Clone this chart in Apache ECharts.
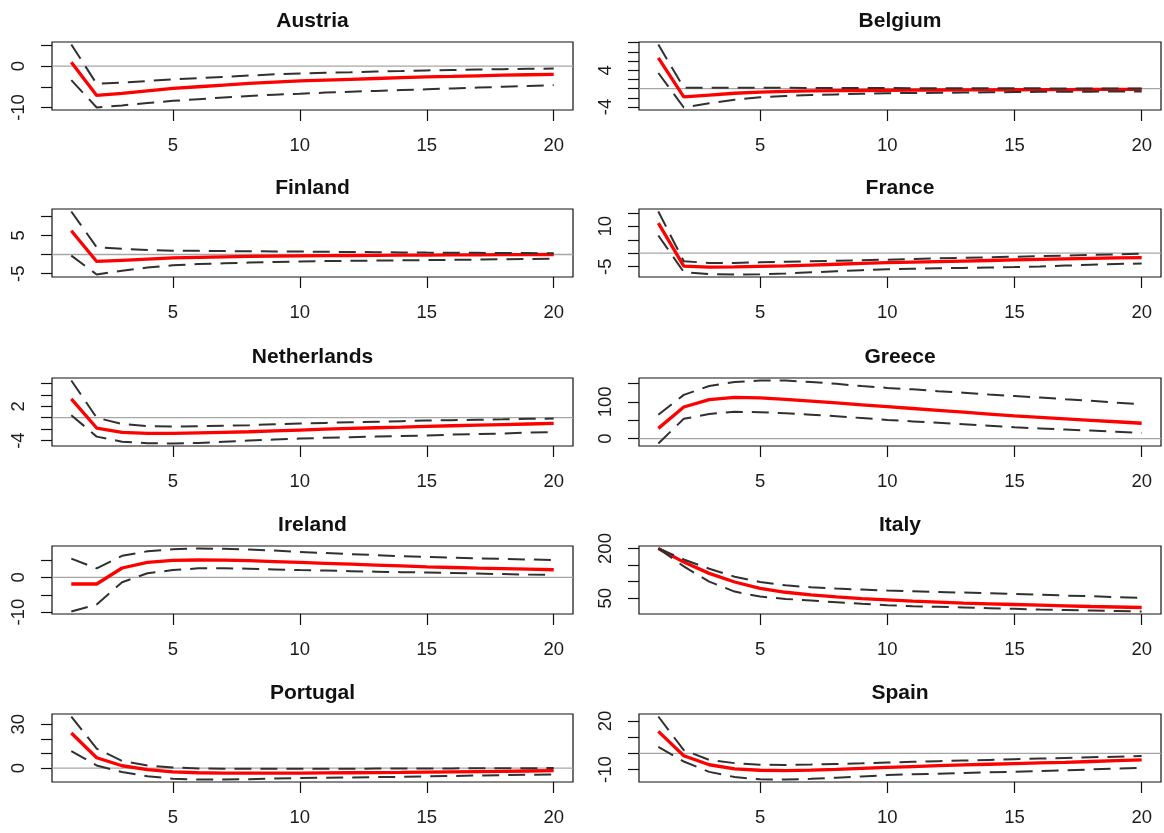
<!DOCTYPE html>
<html>
<head>
<meta charset="utf-8">
<script src="https://cdn.jsdelivr.net/npm/echarts@6/dist/echarts.min.js"></script>
<style>
  html, body { margin: 0; padding: 0; background: #ffffff; }
  #chart { width: 1164px; height: 833px; }
</style>
</head>
<body>
<div id="chart"></div>
<script>
// Impulse responses by horizon, with lower / upper bands, one panel per country.
const horizon = [1, 2, 3, 4, 5, 6, 7, 8, 9, 10, 11, 12, 13, 14, 15, 16, 17, 18, 19, 20];
const xTicks = [5, 10, 15, 20];

const austriaIrf   = [0.9, -7.1, -6.6, -6.0, -5.4, -5.0, -4.6, -4.2, -3.9, -3.6, -3.4, -3.2, -3.0, -2.8, -2.6, -2.5, -2.35, -2.2, -2.1, -2.0];
const austriaUpper = [5.2, -4.3, -4.0, -3.6, -3.2, -2.9, -2.6, -2.3, -2.0, -1.8, -1.6, -1.5, -1.3, -1.2, -1.05, -0.95, -0.85, -0.75, -0.65, -0.6];
const austriaLower = [-3.4, -10.0, -9.5, -8.9, -8.4, -8.0, -7.6, -7.2, -6.9, -6.7, -6.4, -6.2, -6.0, -5.8, -5.6, -5.4, -5.2, -5.0, -4.8, -4.6];
const austriaTicks = [-10, -5, 0, 5];
const austriaLabels = [-10, 0];

const belgiumIrf   = [6.7, -1.8, -1.4, -1.0, -0.75, -0.6, -0.5, -0.45, -0.4, -0.35, -0.32, -0.3, -0.28, -0.26, -0.24, -0.22, -0.2, -0.18, -0.16, -0.15];
const belgiumUpper = [9.6, 0.2, 0.2, 0.2, 0.2, 0.18, 0.16, 0.15, 0.14, 0.12, 0.1, 0.1, 0.09, 0.08, 0.07, 0.06, 0.05, 0.05, 0.04, 0.03];
const belgiumLower = [3.4, -4.1, -3.2, -2.4, -1.9, -1.6, -1.4, -1.25, -1.1, -1.0, -0.95, -0.9, -0.85, -0.8, -0.75, -0.7, -0.68, -0.65, -0.62, -0.6];
const belgiumTicks = [-4, -2, 0, 2, 4, 6, 8, 10];
const belgiumLabels = [-4, 4];

const finlandIrf   = [6.2, -1.8, -1.5, -1.2, -0.9, -0.75, -0.6, -0.5, -0.42, -0.35, -0.3, -0.25, -0.2, -0.17, -0.14, -0.11, -0.08, -0.05, -0.03, 0.0];
const finlandUpper = [11.2, 1.9, 1.5, 1.2, 1.0, 0.95, 0.9, 0.85, 0.8, 0.78, 0.72, 0.66, 0.6, 0.55, 0.5, 0.47, 0.44, 0.4, 0.37, 0.35];
const finlandLower = [-0.3, -5.2, -4.2, -3.4, -2.8, -2.5, -2.3, -2.1, -1.95, -1.8, -1.72, -1.65, -1.58, -1.52, -1.46, -1.4, -1.32, -1.25, -1.18, -1.1];
const finlandTicks = [-5, 0, 5, 10];
const finlandLabels = [-5, 5];

const franceIrf   = [11.2, -4.8, -5.2, -5.1, -4.9, -4.7, -4.4, -4.1, -3.8, -3.5, -3.3, -3.1, -2.9, -2.7, -2.5, -2.3, -2.1, -1.9, -1.75, -1.6];
const franceUpper = [15.5, -3.0, -3.6, -3.6, -3.4, -3.2, -3.0, -2.8, -2.6, -2.4, -2.15, -1.9, -1.7, -1.5, -1.3, -1.1, -0.9, -0.65, -0.4, -0.2];
const franceLower = [6.6, -7.0, -7.8, -7.9, -7.8, -7.5, -7.1, -6.7, -6.3, -6.0, -5.8, -5.6, -5.45, -5.3, -5.15, -4.9, -4.6, -4.3, -4.0, -3.8];
const franceTicks = [-5, 0, 5, 10, 15];
const franceLabels = [-5, 10];

const netherlandsIrf   = [3.3, -1.8, -2.55, -2.75, -2.75, -2.65, -2.55, -2.45, -2.3, -2.15, -2.0, -1.85, -1.75, -1.65, -1.5, -1.4, -1.3, -1.2, -1.1, -1.0];
const netherlandsUpper = [6.5, 0.0, -1.1, -1.45, -1.55, -1.5, -1.4, -1.3, -1.15, -1.0, -0.9, -0.8, -0.7, -0.6, -0.5, -0.42, -0.35, -0.28, -0.2, -0.15];
const netherlandsLower = [0.45, -3.3, -4.2, -4.45, -4.5, -4.4, -4.2, -4.0, -3.8, -3.65, -3.5, -3.4, -3.3, -3.2, -3.1, -2.95, -2.85, -2.75, -2.6, -2.5];
const netherlandsTicks = [-4, -2, 0, 2, 4, 6];
const netherlandsLabels = [-4, 2];

const greeceIrf   = [28, 86, 106, 112, 111, 107, 102, 97, 92, 87, 82, 77, 72, 67, 62, 58, 54, 50, 46, 42];
const greeceUpper = [65, 119, 143, 154, 158, 158, 154, 149, 143, 138, 134, 129, 125, 120, 116, 112, 107, 103, 98, 94];
const greeceLower = [-13, 54, 67, 73, 72, 69, 65, 61, 56, 51, 47, 43, 39, 35, 31, 28, 25, 22, 19, 16];
const greeceTicks = [0, 50, 100, 150];
const greeceLabels = [0, 100];

const irelandIrf   = [-1.9, -1.9, 2.7, 4.3, 4.9, 5.0, 4.95, 4.8, 4.55, 4.3, 4.05, 3.8, 3.55, 3.3, 3.05, 2.85, 2.65, 2.5, 2.35, 2.2];
const irelandUpper = [5.4, 2.6, 6.2, 7.5, 8.1, 8.3, 8.2, 8.0, 7.7, 7.3, 7.0, 6.7, 6.4, 6.1, 5.9, 5.7, 5.5, 5.3, 5.15, 5.0];
const irelandLower = [-9.8, -7.8, -1.4, 1.2, 2.1, 2.6, 2.6, 2.5, 2.3, 2.1, 1.95, 1.8, 1.65, 1.5, 1.4, 1.25, 1.1, 0.95, 0.8, 0.7];
const irelandTicks = [-10, -5, 0, 5];
const irelandLabels = [-10, 0];

const italyIrf   = [200, 159, 125, 99, 80, 68, 60, 54, 49, 45, 41, 38, 35, 33, 31, 29, 27, 25, 23.5, 22];
const italyUpper = [200, 167, 139, 115, 99, 89, 83, 79, 76, 73, 71, 69, 67, 65, 63, 61, 58, 56, 53, 51];
const italyLower = [200, 146, 100, 70, 55, 48, 43, 38, 33, 29, 26, 24, 22, 20, 18, 16, 14.5, 13, 11.5, 10];
const italyTicks = [50, 100, 150, 200];
const italyLabels = [50, 200];

const portugalIrf   = [24, 7.1, 1.6, -1.1, -2.6, -3.2, -3.4, -3.5, -3.5, -3.4, -3.3, -3.2, -3.1, -3.0, -2.8, -2.6, -2.4, -2.2, -2.0, -1.8];
const portugalUpper = [35.3, 13.3, 4.9, 1.8, 0.4, -0.2, -0.4, -0.5, -0.5, -0.4, -0.4, -0.4, -0.35, -0.3, -0.25, -0.2, -0.15, -0.1, -0.05, 0.0];
const portugalLower = [11.6, 1.8, -2.7, -5.6, -7.3, -7.8, -7.8, -7.6, -7.2, -6.8, -6.6, -6.4, -6.2, -6.0, -5.7, -5.4, -5.1, -4.8, -4.6, -4.4];
const portugalTicks = [0, 10, 20, 30];
const portugalLabels = [0, 30];

const spainIrf   = [13.6, -1.4, -7.0, -9.5, -10.4, -10.6, -10.3, -9.8, -9.2, -8.6, -8.1, -7.6, -7.1, -6.7, -6.3, -5.9, -5.5, -5.0, -4.5, -4.0];
const spainUpper = [22.8, 2.0, -4.0, -6.0, -7.0, -7.1, -6.9, -6.5, -6.1, -5.6, -5.2, -4.8, -4.4, -4.0, -3.6, -3.2, -2.8, -2.4, -2.0, -1.6];
const spainLower = [4.0, -5.0, -11.4, -14.6, -16.0, -16.1, -15.7, -15.0, -14.2, -13.4, -12.9, -12.5, -12.1, -11.7, -11.3, -10.9, -10.4, -9.9, -9.4, -9.0];
const spainTicks = [-10, 0, 10, 20];
const spainLabels = [-10, 20];

const panels = [
  { name: 'Austria',     irf: austriaIrf,     upper: austriaUpper,     lower: austriaLower,     ticks: austriaTicks,     labels: austriaLabels },
  { name: 'Belgium',     irf: belgiumIrf,     upper: belgiumUpper,     lower: belgiumLower,     ticks: belgiumTicks,     labels: belgiumLabels },
  { name: 'Finland',     irf: finlandIrf,     upper: finlandUpper,     lower: finlandLower,     ticks: finlandTicks,     labels: finlandLabels },
  { name: 'France',      irf: franceIrf,      upper: franceUpper,      lower: franceLower,      ticks: franceTicks,      labels: franceLabels },
  { name: 'Netherlands', irf: netherlandsIrf, upper: netherlandsUpper, lower: netherlandsLower, ticks: netherlandsTicks, labels: netherlandsLabels },
  { name: 'Greece',      irf: greeceIrf,      upper: greeceUpper,      lower: greeceLower,      ticks: greeceTicks,      labels: greeceLabels },
  { name: 'Ireland',     irf: irelandIrf,     upper: irelandUpper,     lower: irelandLower,     ticks: irelandTicks,     labels: irelandLabels },
  { name: 'Italy',       irf: italyIrf,       upper: italyUpper,       lower: italyLower,       ticks: italyTicks,       labels: italyLabels },
  { name: 'Portugal',    irf: portugalIrf,    upper: portugalUpper,    lower: portugalLower,    ticks: portugalTicks,    labels: portugalLabels },
  { name: 'Spain',       irf: spainIrf,       upper: spainUpper,       lower: spainLower,       ticks: spainTicks,       labels: spainLabels }
];

// Layout of the 5 x 2 grid of plot boxes (pixels).
const colLeft = [52, 639];
const colWidth = [521, 522];
const rowTop = [42, 209, 378, 546, 714];
const boxHeight = 68;
const FONT = "'Liberation Sans', Arial, Helvetica, sans-serif";
const TEXT = '#1c1c1c';

// Axis ranges padded by 4% of the data span on each side.
function padded(values) {
  const lo = Math.min.apply(null, values);
  const hi = Math.max.apply(null, values);
  const pad = (hi - lo) * 0.04;
  return [lo - pad, hi + pad];
}
const xRange = padded(horizon);

const grids = [], xAxes = [], yAxes = [], titles = [], series = [];

panels.forEach((p, i) => {
  const col = i % 2, row = Math.floor(i / 2);
  const left = colLeft[col], top = rowTop[row], width = colWidth[col];
  const yRange = padded(p.irf.concat(p.upper, p.lower));

  grids.push({
    left: left, top: top, width: width, height: boxHeight,
    show: true, borderColor: '#111', borderWidth: 1.2, backgroundColor: 'transparent'
  });

  titles.push({
    text: p.name,
    left: left + width / 2,
    top: top - 31,
    textAlign: 'center',
    padding: 0,
    textStyle: { fontFamily: FONT, fontWeight: 'bold', fontSize: 21, color: '#111' }
  });

  xAxes.push({
    gridIndex: i, type: 'value', min: xRange[0], max: xRange[1], position: 'bottom',
    axisLine: { show: false, onZero: false },
    splitLine: { show: false },
    axisTick: { show: true, inside: false, length: 11, customValues: xTicks, lineStyle: { color: '#111', width: 1.2 } },
    axisLabel: { customValues: xTicks, margin: 26, fontSize: 18.5, fontFamily: FONT, color: TEXT }
  });

  yAxes.push({
    gridIndex: i, type: 'value', min: yRange[0], max: yRange[1], position: 'left',
    axisLine: { show: false, onZero: false },
    splitLine: { show: false },
    axisTick: { show: true, inside: false, length: 11, customValues: p.ticks, lineStyle: { color: '#111', width: 1.2 } },
    axisLabel: { customValues: p.labels, rotate: 90, margin: 24, fontSize: 18.5, fontFamily: FONT, color: TEXT }
  });

  const pts = arr => horizon.map((h, k) => [h, arr[k]]);

  // Zero reference line, only where zero lies inside the axis range.
  if (yRange[0] < 0 && yRange[1] > 0) {
    series.push({
      type: 'line', xAxisIndex: i, yAxisIndex: i, silent: true, symbol: 'none', z: 1,
      data: [[xRange[0], 0], [xRange[1], 0]],
      lineStyle: { color: '#a6a6a6', width: 1.3 }
    });
  }
  series.push({
    type: 'line', xAxisIndex: i, yAxisIndex: i, symbol: 'none', z: 2,
    data: pts(p.irf),
    lineStyle: { color: '#ff0000', width: 3.3 }
  });
  [p.upper, p.lower].forEach(band => {
    series.push({
      type: 'line', xAxisIndex: i, yAxisIndex: i, symbol: 'none', z: 3,
      data: pts(band),
      lineStyle: { color: '#303030', width: 2, type: [17, 9] }
    });
  });
});

const chart = echarts.init(document.getElementById('chart'), null, { renderer: 'canvas' });
chart.setOption({
  animation: false,
  backgroundColor: '#ffffff',
  title: titles,
  grid: grids,
  xAxis: xAxes,
  yAxis: yAxes,
  series: series
});
</script>
</body>
</html>
